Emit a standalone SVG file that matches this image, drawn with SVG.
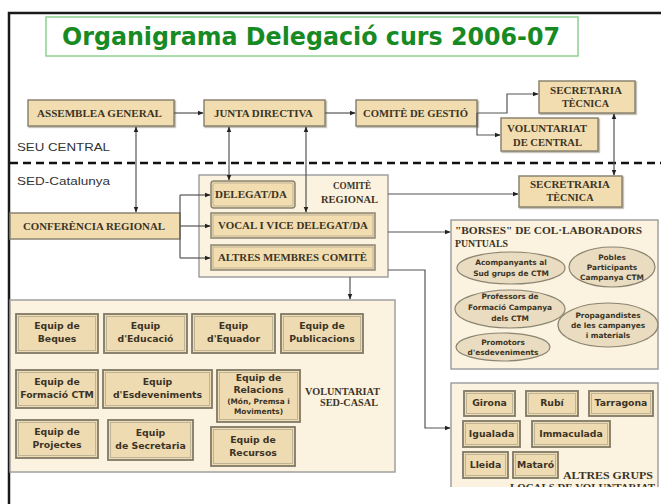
<svg xmlns="http://www.w3.org/2000/svg" width="661" height="504" viewBox="0 0 661 504">
<defs>
<marker id="ah" viewBox="0 0 10 10" refX="9" refY="5" markerWidth="6" markerHeight="6" markerUnits="userSpaceOnUse" orient="auto-start-reverse"><path d="M0,1 L10,5 L0,9 z" fill="#222"/></marker>
<clipPath id="cut"><rect x="0" y="0" width="661" height="487"/></clipPath>
<filter id="sh" x="-10%" y="-10%" width="130%" height="140%"><feDropShadow dx="1.2" dy="1.2" stdDeviation="0.6" flood-color="#8a8270" flood-opacity="0.6"/></filter>
</defs>
<style>
.box{fill:#f2ddb0;stroke:#8a8470;stroke-width:1.5}
.eq{fill:#efdbb2;stroke:#7f7967;stroke-width:1.8}
.inn{fill:none;stroke:#b3aa92;stroke-width:0.8}
.cont{fill:#fbf2df;stroke:#a0a0a0;stroke-width:1.5}
.ell{fill:#e9dcc0;stroke:#8a8470;stroke-width:1.2}
.lbl{font-family:"Liberation Serif",serif;font-weight:bold;font-size:10px;fill:#3b3426;text-anchor:middle}
.lbs{font-family:"Liberation Serif",serif;font-weight:bold;font-size:10px;fill:#3b3426}
.sm{font-family:"DejaVu Sans",sans-serif;font-weight:bold;font-size:9.3px;fill:#3b3426;text-anchor:middle}
.xs{font-family:"DejaVu Sans",sans-serif;font-weight:bold;font-size:7.4px;fill:#3b3426;text-anchor:middle}
.plain{font-family:"Liberation Sans",sans-serif;font-size:11.5px;fill:#333}
.con{fill:none;stroke:#555;stroke-width:1.2}
</style>
<rect width="661" height="504" fill="#fff"/>
<!-- frame -->
<g id="frame">
<path d="M9,504 V13 H661" fill="none" stroke="#1a1a1a" stroke-width="2.5"/>
<line x1="10" y1="163" x2="661" y2="163" stroke="#111" stroke-width="2.5" stroke-dasharray="8,5"/>
<text class="plain" x="17" y="151" textLength="93" lengthAdjust="spacingAndGlyphs">SEU CENTRAL</text>
<text class="plain" x="17" y="185" textLength="93" lengthAdjust="spacingAndGlyphs">SED-Catalunya</text>
</g>
<g id="title">
<rect x="46" y="17" width="532" height="39" fill="#fff" stroke="#8fd08f" stroke-width="1.5"/>
<text x="62" y="45" font-family="DejaVu Sans, sans-serif" font-weight="bold" font-size="24" fill="#178a24" textLength="498" lengthAdjust="spacingAndGlyphs">Organigrama Delegació curs 2006-07</text>
</g>
<!-- containers -->
<g id="comite-regional">
<rect class="cont" x="199" y="175" width="189" height="102"/>
<text class="lbl" x="352" y="189" textLength="38" lengthAdjust="spacingAndGlyphs">COMITÈ</text>
<text class="lbl" x="349.5" y="203" textLength="57" lengthAdjust="spacingAndGlyphs">REGIONAL</text>
</g>
<g id="voluntariat-sed-casal">
<rect class="cont" x="10" y="300" width="385" height="172"/>
<text class="lbs" x="305" y="395" textLength="75" lengthAdjust="spacingAndGlyphs">VOLUNTARIAT</text>
<text class="lbs" x="320" y="406" textLength="58" lengthAdjust="spacingAndGlyphs">SED-CASAL</text>
</g>
<g id="borses">
<rect class="cont" x="451" y="220" width="207" height="149"/>
<text class="lbs" x="455" y="234" textLength="187" lengthAdjust="spacingAndGlyphs">"BORSES" DE COL·LABORADORS</text>
<text class="lbs" x="455" y="247" textLength="53" lengthAdjust="spacingAndGlyphs">PUNTUALS</text>
</g>
<g id="altres-grups" clip-path="url(#cut)">
<rect class="cont" x="451" y="383" width="207" height="120"/>
<text class="lbs" x="563" y="479" textLength="90" lengthAdjust="spacingAndGlyphs">ALTRES GRUPS</text>
<text class="lbs" x="510" y="491" textLength="145" lengthAdjust="spacingAndGlyphs">LOCALS DE VOLUNTARIAT</text>
</g>
<!-- top nodes -->
<g id="assemblea"><rect class="box" filter="url(#sh)" x="28" y="100" width="146" height="26"/><text class="lbl" x="99.5" y="117" textLength="125" lengthAdjust="spacingAndGlyphs">ASSEMBLEA GENERAL</text></g>
<g id="junta"><rect class="box" filter="url(#sh)" x="204" y="100" width="121" height="26"/><text class="lbl" x="263.5" y="117" textLength="99" lengthAdjust="spacingAndGlyphs">JUNTA DIRECTIVA</text></g>
<g id="comite-gestio"><rect class="box" filter="url(#sh)" x="356" y="100" width="121" height="26"/><text class="lbl" x="415.5" y="117" textLength="105" lengthAdjust="spacingAndGlyphs">COMITÈ DE GESTIÓ</text></g>
<g id="secretaria-central"><rect class="box" filter="url(#sh)" x="539" y="81" width="96" height="32"/><text class="lbl" x="586" y="94" textLength="72" lengthAdjust="spacingAndGlyphs">SECRETARIA</text><text class="lbl" x="585.5" y="107" textLength="47" lengthAdjust="spacingAndGlyphs">TÈCNICA</text></g>
<g id="voluntariat-central"><rect class="box" filter="url(#sh)" x="501" y="118" width="97" height="33"/><text class="lbl" x="547" y="132" textLength="80" lengthAdjust="spacingAndGlyphs">VOLUNTARIAT</text><text class="lbl" x="547.5" y="146" textLength="69" lengthAdjust="spacingAndGlyphs">DE CENTRAL</text></g>
<g id="conferencia"><rect class="box" x="10" y="213" width="170" height="26"/><text class="lbl" x="94" y="230" textLength="142" lengthAdjust="spacingAndGlyphs">CONFERÈNCIA REGIONAL</text></g>
<g id="delegat"><rect class="box" x="211" y="181" width="84" height="27" rx="3"/><rect class="inn" x="213" y="183" width="80" height="23" rx="2"/><text class="lbl" x="251" y="198" textLength="72" lengthAdjust="spacingAndGlyphs">DELEGAT/DA</text></g>
<g id="vocal"><rect class="box" x="211" y="213" width="164" height="25"/><rect class="inn" x="213" y="215" width="160" height="21"/><text class="lbl" x="293" y="229" textLength="150" lengthAdjust="spacingAndGlyphs">VOCAL I VICE DELEGAT/DA</text></g>
<g id="altres-membres"><rect class="box" x="211" y="245" width="164" height="25"/><rect class="inn" x="213" y="247" width="160" height="21"/><text class="lbl" x="292.5" y="261" textLength="149" lengthAdjust="spacingAndGlyphs">ALTRES MEMBRES COMITÈ</text></g>
<g id="secretaria-regional"><rect class="box" filter="url(#sh)" x="519" y="176" width="103" height="31"/><text class="lbl" x="570" y="188" textLength="80" lengthAdjust="spacingAndGlyphs">SECRETRARIA</text><text class="lbl" x="570" y="201" textLength="47" lengthAdjust="spacingAndGlyphs">TÈCNICA</text></g>
<!-- equips -->
<g id="eq-beques"><rect class="eq" x="16" y="314" width="82" height="39"/><rect class="inn" x="18.5" y="316.5" width="77" height="34"/><text class="sm" x="57" y="329">Equip de</text><text class="sm" x="57" y="342">Beques</text></g>
<g id="eq-educacio"><rect class="eq" x="104" y="314" width="83" height="39"/><rect class="inn" x="106.5" y="316.5" width="78" height="34"/><text class="sm" x="145.5" y="329">Equip</text><text class="sm" x="145.5" y="342">d'Educació</text></g>
<g id="eq-equador"><rect class="eq" x="192" y="314" width="83" height="39"/><rect class="inn" x="194.5" y="316.5" width="78" height="34"/><text class="sm" x="233.5" y="329">Equip</text><text class="sm" x="233.5" y="342">d'Equador</text></g>
<g id="eq-publicacions"><rect class="eq" x="281" y="314" width="82" height="39"/><rect class="inn" x="283.5" y="316.5" width="77" height="34"/><text class="sm" x="322" y="329">Equip de</text><text class="sm" x="322" y="342">Publicacions</text></g>
<g id="eq-formacio"><rect class="eq" x="16" y="370" width="82" height="38"/><rect class="inn" x="18.5" y="372.5" width="77" height="33"/><text class="sm" x="57" y="385">Equip de</text><text class="sm" x="57" y="398">Formació CTM</text></g>
<g id="eq-esdeveniments"><rect class="eq" x="103" y="370" width="109" height="38"/><rect class="inn" x="105.5" y="372.5" width="104" height="33"/><text class="sm" x="157.5" y="385">Equip</text><text class="sm" x="157.5" y="398">d'Esdeveniments</text></g>
<g id="eq-relacions"><rect class="eq" x="217" y="370" width="83" height="52"/><rect class="inn" x="219.5" y="372.5" width="78" height="47"/><text class="sm" x="258.5" y="381">Equip de</text><text class="sm" x="258.5" y="393">Relacions</text><text class="xs" x="258.5" y="404">(Món, Premsa i</text><text class="xs" x="258.5" y="414">Moviments)</text></g>
<g id="eq-projectes"><rect class="eq" x="16" y="420" width="82" height="38"/><rect class="inn" x="18.5" y="422.5" width="77" height="33"/><text class="sm" x="57" y="435">Equip de</text><text class="sm" x="57" y="448">Projectes</text></g>
<g id="eq-secretaria"><rect class="eq" x="108" y="420" width="85" height="40"/><rect class="inn" x="110.5" y="422.5" width="80" height="35"/><text class="sm" x="150.5" y="436">Equip</text><text class="sm" x="150.5" y="449">de Secretaria</text></g>
<g id="eq-recursos"><rect class="eq" x="211" y="427" width="84" height="39"/><rect class="inn" x="213.5" y="429.5" width="79" height="34"/><text class="sm" x="253" y="443">Equip de</text><text class="sm" x="253" y="456">Recursos</text></g>
<!-- borses ellipses -->
<g id="b-acompanyants"><ellipse class="ell" cx="511" cy="268" rx="54" ry="16"/><text class="xs" x="511" y="265">Acompanyants al</text><text class="xs" x="511" y="276">Sud grups de CTM</text></g>
<g id="b-pobles"><ellipse class="ell" cx="612" cy="267" rx="43" ry="20"/><text class="xs" x="612" y="260">Pobles</text><text class="xs" x="612" y="270">Participants</text><text class="xs" x="612" y="280">Campanya CTM</text></g>
<g id="b-professors"><ellipse class="ell" cx="510" cy="309" rx="55" ry="19"/><text class="xs" x="510" y="299">Professors de</text><text class="xs" x="510" y="310">Formació Campanya</text><text class="xs" x="510" y="321">dels CTM</text></g>
<g id="b-propagandistes"><ellipse class="ell" cx="608" cy="325" rx="50" ry="22"/><text class="xs" x="608" y="318">Propagandistes</text><text class="xs" x="608" y="328">de les campanyes</text><text class="xs" x="608" y="338">i materials</text></g>
<g id="b-promotors"><ellipse class="ell" cx="503" cy="347" rx="47" ry="14"/><text class="xs" x="503" y="345">Promotors</text><text class="xs" x="503" y="355">d'esdeveniments</text></g>
<!-- altres grups -->
<g id="g-girona"><rect class="eq" x="464" y="391" width="51" height="25"/><rect class="inn" x="466.5" y="393.5" width="46" height="20"/><text class="sm" x="489.5" y="406">Girona</text></g>
<g id="g-rubi"><rect class="eq" x="526" y="391" width="52" height="25"/><rect class="inn" x="528.5" y="393.5" width="47" height="20"/><text class="sm" x="552" y="406">Rubí</text></g>
<g id="g-tarragona"><rect class="eq" x="589" y="391" width="64" height="25"/><rect class="inn" x="591.5" y="393.5" width="59" height="20"/><text class="sm" x="621" y="406">Tarragona</text></g>
<g id="g-igualada"><rect class="eq" x="463" y="421" width="57" height="26"/><rect class="inn" x="465.5" y="423.5" width="52" height="21"/><text class="sm" x="491.5" y="437">Igualada</text></g>
<g id="g-immaculada"><rect class="eq" x="532" y="421" width="78" height="26"/><rect class="inn" x="534.5" y="423.5" width="73" height="21"/><text class="sm" x="571" y="437">Immaculada</text></g>
<g id="g-lleida"><rect class="eq" x="463" y="452" width="45" height="26"/><rect class="inn" x="465.5" y="454.5" width="40" height="21"/><text class="sm" x="485.5" y="468">Lleida</text></g>
<g id="g-mataro"><rect class="eq" x="513" y="452" width="45" height="26"/><rect class="inn" x="515.5" y="454.5" width="40" height="21"/><text class="sm" x="535.5" y="468">Mataró</text></g>
<!-- connectors -->
<g id="connectors">
<path class="con" d="M174,113 H203" marker-end="url(#ah)"/>
<path class="con" d="M325,113 H355" marker-end="url(#ah)"/>
<path class="con" d="M477,113 H507 V94 H538" marker-end="url(#ah)"/>
<path class="con" d="M477,113 V135 H500" marker-end="url(#ah)"/>
<path class="con" d="M614,114 V175" marker-start="url(#ah)" marker-end="url(#ah)"/>
<path class="con" d="M136,127 V212" marker-start="url(#ah)" marker-end="url(#ah)"/>
<path class="con" d="M229,127 V180" marker-start="url(#ah)" marker-end="url(#ah)"/>
<path class="con" d="M306,127 V212" marker-start="url(#ah)" marker-end="url(#ah)"/>
<path class="con" d="M180,195 V258"/>
<path class="con" d="M180,195 H210" marker-end="url(#ah)"/>
<path class="con" d="M180,226 H210" marker-end="url(#ah)"/>
<path class="con" d="M180,258 H210" marker-end="url(#ah)"/>
<path class="con" d="M388,194 H518" marker-end="url(#ah)"/>
<path class="con" d="M388,232 H450" marker-end="url(#ah)"/>
<path class="con" d="M350,277 V299" marker-end="url(#ah)"/>
<path class="con" d="M388,270 H425 V428 H450" marker-end="url(#ah)"/>
</g>
</svg>
